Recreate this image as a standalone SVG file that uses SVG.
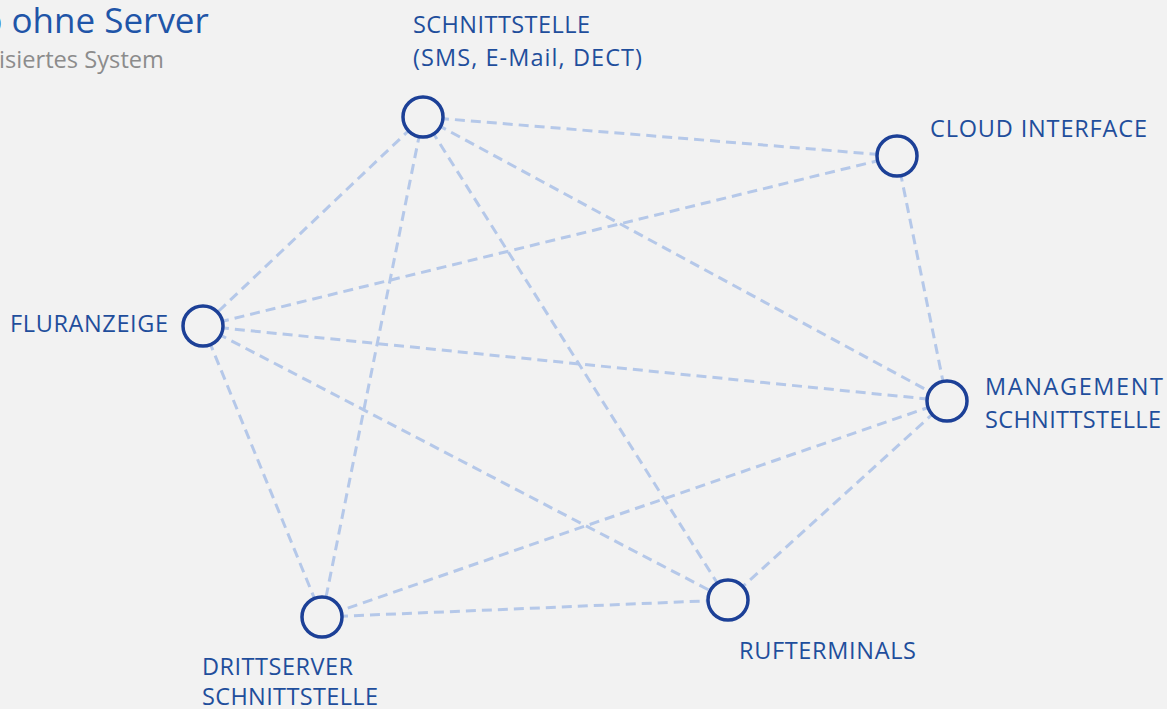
<svg xmlns="http://www.w3.org/2000/svg" width="1167" height="709" viewBox="0 0 1167 709">
<style>
.bg{fill:#f2f2f2}
.edge{stroke:#b5c8e9;stroke-width:3;stroke-dasharray:10 6;fill:none}
.node{fill:#f2f2f2;stroke:#1c4097;stroke-width:3.5}
.lbl{font-family:"Open Sans","Noto Sans",sans-serif;font-size:23.5px;fill:#1f4e9c}
.title{font-family:"Open Sans","Noto Sans",sans-serif;font-size:35px;fill:#1f55a8}
.sub{font-family:"Open Sans","Noto Sans",sans-serif;font-size:24px;fill:#8c8c8c}
</style>
<rect class="bg" x="0" y="0" width="1167" height="709"/>
<text class="title" x="-19" y="33">p ohne Server</text>
<text class="sub" x="-1" y="68" textLength="165" lengthAdjust="spacingAndGlyphs">isiertes System</text>
<g id="connectors">
<line class="edge" x1="423" y1="117" x2="897" y2="156"/>
<line class="edge" x1="423" y1="117" x2="203" y2="326"/>
<line class="edge" x1="423" y1="117" x2="322" y2="617"/>
<line class="edge" x1="423" y1="117" x2="728" y2="600"/>
<line class="edge" x1="423" y1="117" x2="947" y2="401"/>
<line class="edge" x1="897" y1="156" x2="203" y2="326"/>
<line class="edge" x1="897" y1="156" x2="947" y2="401"/>
<line class="edge" x1="203" y1="326" x2="947" y2="401"/>
<line class="edge" x1="203" y1="326" x2="728" y2="600"/>
<line class="edge" x1="203" y1="326" x2="322" y2="617"/>
<line class="edge" x1="947" y1="401" x2="322" y2="617"/>
<line class="edge" x1="947" y1="401" x2="728" y2="600"/>
<line class="edge" x1="322" y1="617" x2="728" y2="600"/>
</g>
<g id="node-schnittstelle">
<circle class="node" cx="423" cy="117" r="20"/>
<text class="lbl" x="413" y="33" textLength="177" lengthAdjust="spacing">SCHNITTSTELLE</text>
<text class="lbl" x="413" y="66" textLength="229" lengthAdjust="spacing">(SMS, E-Mail, DECT)</text>
</g>
<g id="node-cloud">
<circle class="node" cx="897" cy="156" r="20"/>
<text class="lbl" x="930" y="137" textLength="217" lengthAdjust="spacing">CLOUD INTERFACE</text>
</g>
<g id="node-fluranzeige">
<circle class="node" cx="203" cy="326" r="20"/>
<text class="lbl" x="10" y="332" textLength="158" lengthAdjust="spacing">FLURANZEIGE</text>
</g>
<g id="node-management">
<circle class="node" cx="947" cy="401" r="20"/>
<text class="lbl" x="985" y="395" textLength="178" lengthAdjust="spacing">MANAGEMENT</text>
<text class="lbl" x="985" y="428" textLength="176" lengthAdjust="spacing">SCHNITTSTELLE</text>
</g>
<g id="node-rufterminals">
<circle class="node" cx="728" cy="600" r="20"/>
<text class="lbl" x="739" y="659" textLength="177" lengthAdjust="spacing">RUFTERMINALS</text>
</g>
<g id="node-drittserver">
<circle class="node" cx="322" cy="617" r="20"/>
<text class="lbl" x="202" y="675" textLength="151" lengthAdjust="spacing">DRITTSERVER</text>
<text class="lbl" x="202" y="705" textLength="176" lengthAdjust="spacing">SCHNITTSTELLE</text>
</g>
</svg>
